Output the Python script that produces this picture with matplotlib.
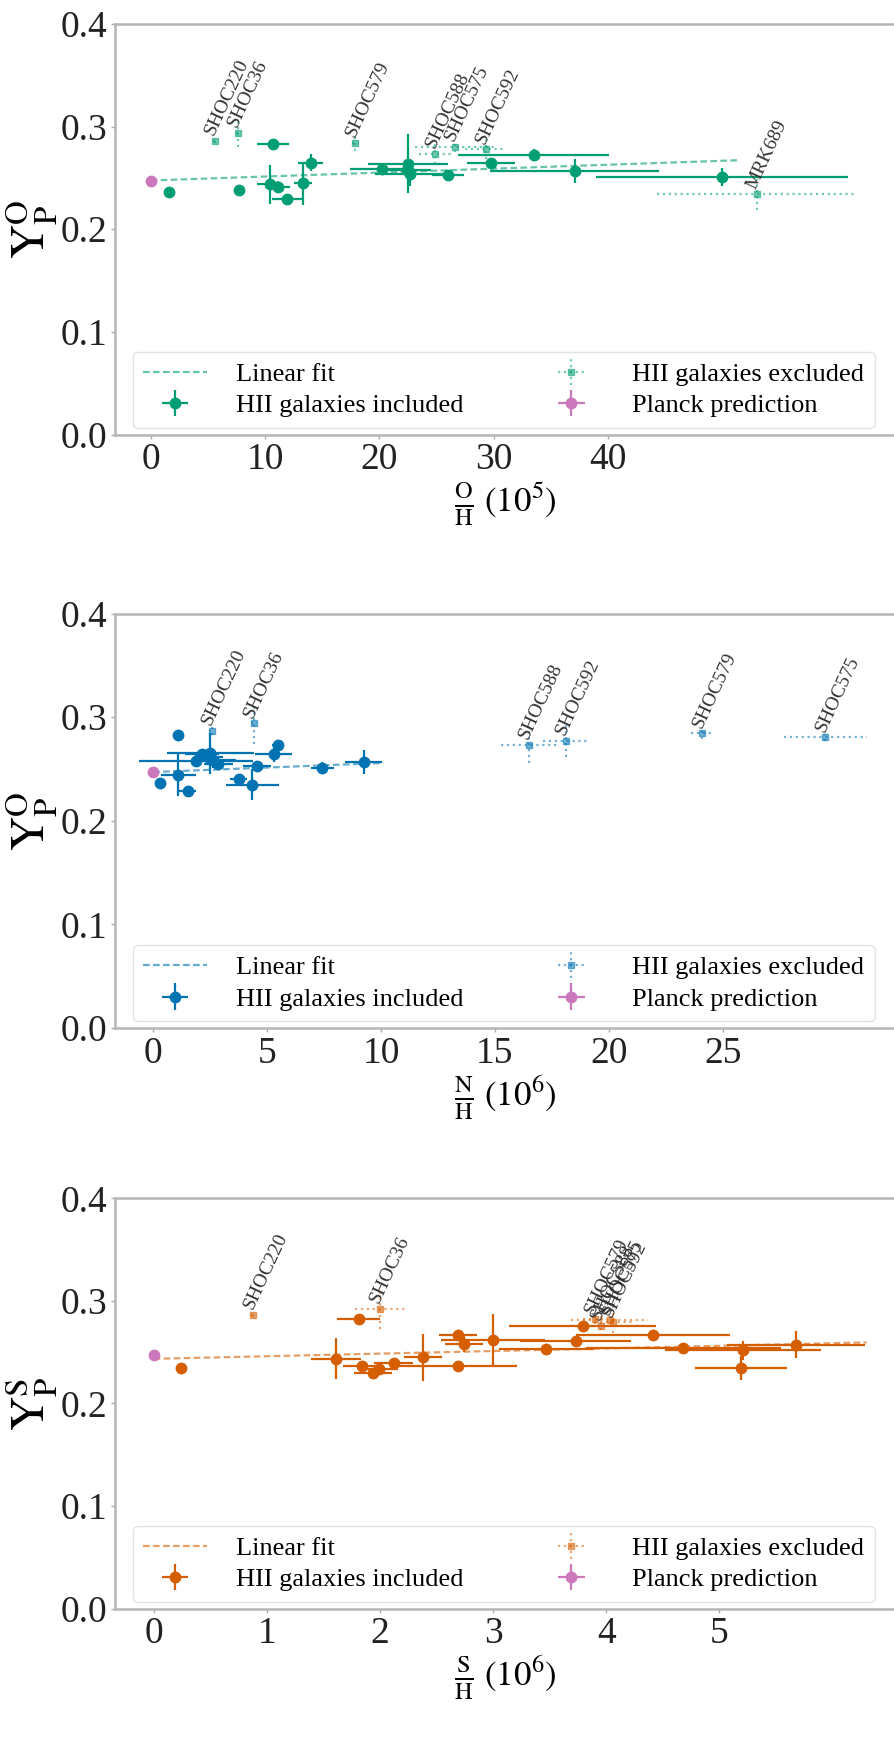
import matplotlib
matplotlib.use('Agg')
import matplotlib.pyplot as plt
import numpy as np

plt.rcParams['font.family'] = ['Liberation Serif', 'DejaVu Serif']
plt.rcParams['mathtext.fontset'] = 'stix'

# colours (seaborn colorblind)
green = '#029e73'
blue = '#0173b2'
orange = '#d55e00'
pink = '#cc78bc'

planck_x = [0.0]
planck_y = [0.247]

# ---- O/H panel ----
oh_x = [1.6, 7.7, 10.7, 10.4, 11.1, 11.9, 13.3, 14.0, 20.2, 22.5, 22.7, 22.4, 26.0, 29.8, 33.5, 37.1, 50.0]
oh_y = [0.236, 0.238, 0.283, 0.244, 0.241, 0.229, 0.245, 0.265, 0.259, 0.264, 0.254, 0.258, 0.253, 0.2645, 0.2727, 0.2567, 0.2509]
oh_xerr = [0.3, 0.3, 1.4, 1.1, 1.1, 1.3, 0.8, 1.1, 2.8, 3.5, 3.1, 2.1, 1.4, 2.1, 6.6, 7.4, 11.0]
oh_yerr = [0.004, 0.004, 0.004, 0.019, 0.006, 0.005, 0.021, 0.008, 0.004, 0.029, 0.012, 0.005, 0.004, 0.005, 0.005, 0.012, 0.009]

oh_ex_names = ['SHOC220', 'SHOC36', 'SHOC579', 'SHOC588', 'SHOC575', 'SHOC592', 'MRK689']
oh_ex_x = [5.6, 7.6, 17.9, 24.9, 26.6, 29.3, 53.0]
oh_ex_y = [0.2864, 0.294, 0.2842, 0.2736, 0.2803, 0.278, 0.234]
oh_ex_xerr = [0.15, 0.15, 0.3, 1.4, 3.5, 1.8, 8.7]
oh_ex_yerr = [0.002, 0.014, 0.008, 0.01, 0.005, 0.01, 0.015]

oh_fit_x = [0.0, 51.3]
oh_fit_y = [0.2475, 0.2672]

# ---- N/H panel ----
nh_x = [0.3, 1.11, 1.11, 1.52, 2.14, 2.43, 2.65, 2.86, 2.52, 3.75, 4.35, 4.56, 5.29, 5.49, 7.43, 9.24, 1.89]
nh_y = [0.236, 0.283, 0.244, 0.229, 0.264, 0.262, 0.259, 0.2548, 0.265, 0.240, 0.235, 0.253, 0.2645, 0.2727, 0.251, 0.2567, 0.258]
nh_xerr = [0.06, 0.06, 0.76, 0.38, 0.76, 0.63, 1.0, 0.63, 1.9, 0.38, 1.17, 0.63, 0.81, 0.25, 0.5, 0.81, 2.5]
nh_yerr = [0.004, 0.004, 0.02, 0.005, 0.005, 0.006, 0.008, 0.005, 0.02, 0.004, 0.015, 0.005, 0.008, 0.005, 0.006, 0.012, 0.005]

nh_ex_names = ['SHOC220', 'SHOC36', 'SHOC588', 'SHOC592', 'SHOC579', 'SHOC575']
nh_ex_x = [2.58, 4.42, 16.5, 18.1, 24.1, 29.5]
nh_ex_y = [0.287, 0.294, 0.2735, 0.2774, 0.2843, 0.2804]
nh_ex_xerr = [0.13, 0.13, 1.22, 1.0, 0.5, 1.83]
nh_ex_yerr = [0.004, 0.02, 0.018, 0.016, 0.005, 0.003]

nh_fit_x = [0.0, 10.1]
nh_fit_y = [0.247, 0.2558]

# ---- S/H panel ----
sh_x = [0.24, 1.61, 1.81, 1.84, 1.94, 1.99, 2.12, 2.38, 2.69, 2.69, 2.74, 3.0, 3.47, 3.73, 3.79, 4.41, 4.68, 5.21, 5.19, 5.68]
sh_y = [0.2346, 0.2437, 0.2819, 0.2367, 0.2298, 0.2337, 0.2392, 0.2452, 0.2361, 0.2669, 0.2584, 0.2623, 0.2527, 0.2608, 0.2753, 0.2663, 0.2539, 0.2518, 0.2346, 0.2572]
sh_xerr = [0.02, 0.22, 0.19, 0.17, 0.17, 0.17, 0.17, 0.17, 0.52, 0.17, 0.17, 0.46, 0.42, 0.49, 0.65, 0.68, 0.86, 0.69, 0.41, 0.61]
sh_yerr = [0.003, 0.02, 0.004, 0.004, 0.005, 0.004, 0.004, 0.023, 0.005, 0.005, 0.008, 0.025, 0.004, 0.005, 0.005, 0.004, 0.004, 0.009, 0.012, 0.013]

sh_ex_names = ['SHOC220', 'SHOC36', 'SHOC579', 'SHOC588', 'SHOC575', 'SHOC592']
sh_ex_x = [0.88, 2.0, 3.9, 3.95, 4.03, 4.06]
sh_ex_y = [0.2864, 0.2925, 0.282, 0.276, 0.281, 0.279]
sh_ex_xerr = [0.02, 0.22, 0.11, 0.29, 0.34, 0.17]
sh_ex_yerr = [0.002, 0.02, 0.005, 0.01, 0.004, 0.01]

sh_fit_x = [0.0, 6.3]
sh_fit_y = [0.2435, 0.2595]

legend_labels = ['Linear fit', 'HII galaxies included', 'HII galaxies excluded', 'Planck prediction']


def draw_panel(ax, color, x, y, xerr, yerr, ex_names, ex_x, ex_y, ex_xerr, ex_yerr,
               fit_x, fit_y, xlim, xticks, xlabel, ylabel):
    fit, = ax.plot(fit_x, fit_y, ls=(0, (3, 1.5)), color=color, alpha=0.6, lw=1.6)
    inc = ax.errorbar(x, y, xerr=xerr, yerr=yerr, fmt='o', color=color, ms=7.5,
                      elinewidth=1.6, capsize=0)
    exc = ax.errorbar(ex_x, ex_y, xerr=ex_xerr, yerr=ex_yerr, fmt='s', color=color,
                      ms=4, elinewidth=1.6, capsize=0, alpha=0.55)
    for lc in exc[2]:
        lc.set_linestyle(':')
    ax.errorbar(planck_x, planck_y, xerr=[0.0], yerr=[0.0], fmt='o', color=pink,
                ms=7.5, elinewidth=1.6, capsize=0)
    for name, xx, yy in zip(ex_names, ex_x, ex_y):
        ax.annotate(name, (xx, yy), xytext=(2, 2), textcoords='offset points',
                    rotation=65, rotation_mode='anchor', ha='left', va='bottom',
                    fontsize=14, color='#333333')
    ax.set_xlim(*xlim)
    ax.set_xticks(xticks)
    ax.set_ylim(0, 0.4)
    ax.set_yticks([0.0, 0.1, 0.2, 0.3, 0.4])
    ax.set_xlabel(xlabel, fontsize=25, labelpad=2)
    ax.set_ylabel(ylabel, fontsize=34, labelpad=0)
    ax.tick_params(labelsize=27, colors='#222222', length=3, width=1, color='#aaaaaa', pad=3)
    for s in ax.spines.values():
        s.set_color('#b5b5b5')
        s.set_linewidth(1.8)
    # legend proxy for Planck shows an error cross
    pl_leg = ax.errorbar([], [], xerr=[], yerr=[], fmt='o', color=pink, ms=7.5,
                         elinewidth=1.6, capsize=0)
    ax.legend([fit, inc, exc, pl_leg], legend_labels,
              loc='lower left', ncol=2, fontsize=19,
              handletextpad=1.1, handlelength=2.4, borderpad=0.4, labelspacing=0.3,
              columnspacing=2.9, borderaxespad=0.25,
              edgecolor='#dddddd', bbox_to_anchor=(0.014, 0.0))


fig = plt.figure(figsize=(8.94, 17.38), dpi=100)
ax1 = fig.add_axes([0.1289, 0.7500, 0.8733, 0.2362])
ax2 = fig.add_axes([0.1289, 0.4085, 0.8733, 0.2385])
ax3 = fig.add_axes([0.1289, 0.0745, 0.8733, 0.2360])

draw_panel(ax1, green, oh_x, oh_y, oh_xerr, oh_yerr, oh_ex_names, oh_ex_x, oh_ex_y,
           oh_ex_xerr, oh_ex_yerr, oh_fit_x, oh_fit_y, (-3.1, 65.2), [0, 10, 20, 30, 40],
           r'$\frac{\mathrm{O}}{\mathrm{H}}\ (10^5)$', r'$\mathrm{Y}^{\mathrm{O}}_{\mathrm{P}}$')
draw_panel(ax2, blue, nh_x, nh_y, nh_xerr, nh_yerr, nh_ex_names, nh_ex_x, nh_ex_y,
           nh_ex_xerr, nh_ex_yerr, nh_fit_x, nh_fit_y, (-1.66, 32.6), [0, 5, 10, 15, 20, 25],
           r'$\frac{\mathrm{N}}{\mathrm{H}}\ (10^6)$', r'$\mathrm{Y}^{\mathrm{O}}_{\mathrm{P}}$')
draw_panel(ax3, orange, sh_x, sh_y, sh_xerr, sh_yerr, sh_ex_names, sh_ex_x, sh_ex_y,
           sh_ex_xerr, sh_ex_yerr, sh_fit_x, sh_fit_y, (-0.34, 6.56), [0, 1, 2, 3, 4, 5],
           r'$\frac{\mathrm{S}}{\mathrm{H}}\ (10^6)$', r'$\mathrm{Y}^{\mathrm{S}}_{\mathrm{P}}$')

fig.savefig('out.png', dpi=100)
